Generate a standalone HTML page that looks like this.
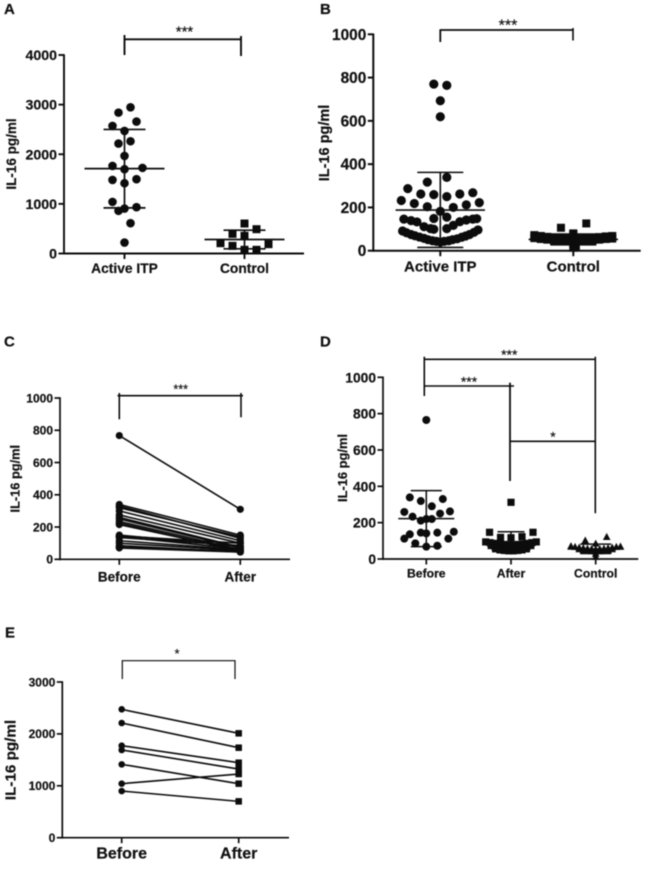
<!DOCTYPE html>
<html>
<head>
<meta charset="utf-8">
<title>IL-16 panels</title>
<style>
html,body{margin:0;padding:0;background:#fff;}
svg{display:block;filter:blur(0.4px);font-family:"Liberation Sans",sans-serif;}
text{fill:#111;stroke:#111;stroke-width:0.2px;}
</style>
</head>
<body>
<svg id="fig" width="649" height="869" viewBox="0 0 649 869" xmlns="http://www.w3.org/2000/svg">
  <text x="4" y="14" font-size="15" font-weight="bold">A</text>
  <text x="320" y="14" font-size="15" font-weight="bold">B</text>
  <text x="4" y="346.5" font-size="15" font-weight="bold">C</text>
  <text x="320" y="346.5" font-size="15" font-weight="bold">D</text>
  <text x="5" y="637.5" font-size="15" font-weight="bold">E</text>
</svg>
<script>
/* Panel A */
const aCategories = ['Active ITP', 'Control'];
const aTicks = [0, 1000, 2000, 3000, 4000];
const aActive = [2946,2839,2658,2570,2470,2262,2215,1966,1765,1725,1698,1483,1497,1416,1040,933,906,859,611,221];
const aActiveSlots = [1,-1,2,-2,0,1,-1,0,-2,3,0,-2,2,0,-2,2,0,-1,1,0];
const aActiveStats = [1710, 2500, 920];
const aControl = [604,490,396,356,208,188,154,74,74];
const aControlSlots = [0,2,-2,0,-4,4,-2,0,2];
const aControlStats = [282, 470, 94];

/* Panel B */
const bCategories = ['Active ITP', 'Control'];
const bTicks = [0, 200, 400, 600, 800, 1000];
const bActive = [770,764,693,619,339,317,287,262,259,250,262,268,232,218,203,200,212,222,182,149,155,
  146,139,133,111,102,99,102,117,134,142,146,148,
  91,83,75,69,63,57,51,46,43,40,43,46,51,55,62,68,75,85,96];
const bActiveSlots = [-1,1,0,0,1,-2,-5,-3,-1,1,3,5,-6,-4,-2,2,4,6,0,-1,1,
  -5.6,-4.5,-3.6,-2.5,-1.5,-1,1,2,3,4,5,5.6,
  -5.8,-5.2,-4.5,-3.9,-3.2,-2.5,-1.9,-1.2,-0.6,0,0.6,1.3,1.9,2.6,3.3,3.9,4.5,5.2,5.8];
const bActiveStats = [188, 362, 15];
const bControl = [106,126,80,77,30,22,14,
  72,68,64,60,58,56,55,56,58,60,63,66,68,
  58,54,51,48,46,45,44,45,46,48,51,54,56];
const bControlSlots = [-1.9,2,0,0,0,0.4,0,
  -6,-5,-4,-3,-2,-1,0,1,2,3,4,5,6,
  -6,-5,-4,-3,-2,-1,0,1,2,3,4,5,6];
const bControlStats = [52, 77, 27];

/* Panel C */
const cCategories = ['Before', 'After'];
const cTicks = [0, 200, 400, 600, 800, 1000];
const cBefore = [767,340,330,320,300,275,260,250,235,225,215,150,145,140,135,115,100,85,75,70];
const cAfter = [310,150,130,140,115,100,75,70,60,50,55,80,100,65,85,60,55,45,50,45];

/* Panel D */
const dCategories = ['Before', 'After', 'Control'];
const dTicks = [0, 200, 400, 600, 800, 1000];
const dBefore = [765,339,330,319,290,259,250,262,233,220,211,220,150,136,145,141,145,112,112,86,73,68];
const dBeforeSlots = [0,-3,3,-1,1,-4,2.5,4.3,-2.5,0,-1,1,5,-3,-1,0,2,-4,4,-2,2,0];
const dBeforeStats = [222, 376, 68];
const dAfter = [312,147,147,119,117,123,
  94,90,86,83,80,78,78,80,83,86,90,94,
  74,68,64,60,58,56,56,58,60,64,68,74,
  56,50,47,45,45,47,50,56];
const dAfterSlots = [0,-3.9,4,-1.9,0,2,
  -4.6,-3.8,-2.9,-2.1,-1.3,-0.4,0.4,1.3,2.1,2.9,3.8,4.6,
  -3.6,-2.9,-2.2,-1.6,-1,-0.3,0.3,1,1.6,2.2,2.9,3.6,
  -2.8,-2,-1.2,-0.4,0.4,1.2,2,2.8];
const dAfterStats = [92, 150, 40];
const dControl = [103,123,86,30,13,
  72,68,64,61,58,56,54,56,58,61,64,68,70,
  55,50,46,44,43,44,46,50,55];
const dControlSlots = [-1.9,2,0,0,0,
  -4.5,-3.75,-3,-2.25,-1.5,-0.75,0,0.75,1.5,2.25,3,3.75,4.5,
  -3,-2.25,-1.5,-0.75,0,0.75,1.5,2.25,3];
const dControlStats = [55, 82, 30];

/* Panel E */
const eCategories = ['Before', 'After'];
const eTicks = [0, 1000, 2000, 3000];
const eBefore = [2473,2210,1773,1690,1413,1041,899];
const eAfter = [2011,1734,1445,1323,1041,1227,700];

const svg = document.getElementById('fig');
const NS = 'http://www.w3.org/2000/svg';
const INK = '#0c0c0c';

function add(tag, attrs, name, parent) {
  const el = document.createElementNS(NS, tag);
  for (const k in attrs) el.setAttribute(k, attrs[k]);
  
  
  (parent || svg).appendChild(el);
  return el;
}
function line(x1, y1, x2, y2, w, name, parent) {
  return add('line', {x1, y1, x2, y2, stroke: INK, 'stroke-width': w}, name, parent);
}
function txt(x, y, s, size, bold, anchor, name, parent) {
  const t = add('text', {x, y, 'font-size': size, 'font-weight': bold ? 'bold' : 'normal', 'text-anchor': anchor}, name, parent);
  t.textContent = s;
  return t;
}
function dot(x, y, r, name, parent) {
  return add('circle', {cx: x, cy: y, r, fill: INK}, name, parent);
}
function square(x, y, s, name, parent) {
  return add('rect', {x: x - s / 2, y: y - s / 2, width: s, height: s, fill: INK}, name, parent);
}
function tri(x, y, s, name, parent) {
  const pts = (x - s / 2) + ',' + (y + s / 2.3) + ' ' + (x + s / 2) + ',' + (y + s / 2.3) + ' ' + x + ',' + (y - s / 2);
  return add('polygon', {points: pts, fill: INK}, name, parent);
}

function panel(o) {
  const g = add('g', {}, o.id);
  const vMax = o.ticks[o.ticks.length - 1];
  const Y = v => o.y0 - (v / vMax) * (o.y0 - o.yTop);
  const X = i => o.c0 + i * o.step;
  line(o.x0, o.yTop - 0.8, o.x0, o.y0 + 0.9, o.axisW, 'y-axis', g);
  line(o.x0 - 0.5, o.y0, o.xEnd, o.y0, o.axisW, 'x-axis', g);
  o.ticks.forEach(v => {
    line(o.x0 - 5.5, Y(v), o.x0, Y(v), o.axisW, 'y-tick', g);
    txt(o.x0 - 7, Y(v) + o.tickFs * 0.36, String(v), o.tickFs, true, 'end', 'y-tick-label', g);
  });
  o.cats.forEach((c, i) => {
    line(X(i), o.y0, X(i), o.y0 + 5.5, o.axisW, 'x-tick', g);
    txt(X(i), o.y0 + o.catDy, c, o.catFs, true, 'middle', 'x-category-label', g);
  });
  const yt = txt(0, 0, 'IL-16 pg/ml', o.titleFs, true, 'middle', 'y-axis-title', g);
  yt.setAttribute('transform', 'translate(' + o.titleX + ',' + o.titleY + ') rotate(-90)');
  return {g, X, Y};
}
function swarm(p, i, values, slots, slotPx, draw, size, name) {
  values.forEach((v, k) => draw(p.X(i) + slots[k] * slotPx, p.Y(v), size, name, p.g));
}
function stats(p, i, s, meanHalf, capHalf, w) {
  const x = p.X(i);
  line(x - meanHalf, p.Y(s[0]), x + meanHalf, p.Y(s[0]), w, 'mean-line', p.g);
  line(x - capHalf, p.Y(s[1]), x + capHalf, p.Y(s[1]), w, 'sd-upper-cap', p.g);
  line(x - capHalf, p.Y(s[2]), x + capHalf, p.Y(s[2]), w, 'sd-lower-cap', p.g);
  line(x, p.Y(s[1]), x, p.Y(s[2]), w, 'sd-whisker', p.g);
}
function stars(x, cy, s, fs, parent) {
  txt(x, cy + fs * 0.55, s, fs, false, 'middle', 'significance-stars', parent);
}
function seg(x1, y1, x2, y2, w) {
  line(x1, y1, x2, y2, w, 'significance-bracket');
}

/* ---------- A ---------- */
const pa = panel({id:'panel-a', ticks:aTicks, cats:aCategories, x0:64, y0:253.5, yTop:55, xEnd:304, c0:124.5, step:120,
  axisW:1.9, tickFs:14.2, catFs:13.8, catDy:19.5, titleFs:13.5, titleX:16, titleY:154});
swarm(pa, 0, aActive, aActiveSlots, 6, dot, 4.3, 'active-itp-point');
stats(pa, 0, aActiveStats, 40, 21, 1.7);
swarm(pa, 1, aControl, aControlSlots, 6, square, 8, 'control-point');
stats(pa, 1, aControlStats, 40, 21, 1.7);
seg(124.5, 39.3, 241, 39.3, 1.9);
seg(124.5, 35, 124.5, 55, 1.9);
seg(241, 36, 241, 56, 1.9);
stars(184.5, 28, '***', 15);

/* ---------- B ---------- */
const pb = panel({id:'panel-b', ticks:bTicks, cats:bCategories, x0:373.3, y0:250.7, yTop:34.3, xEnd:640.7, c0:440.3, step:133,
  axisW:2, tickFs:15.4, catFs:15, catDy:21, titleFs:14.5, titleX:329, titleY:143});
swarm(pb, 0, bActive, bActiveSlots, 6.5, dot, 4.6, 'active-itp-point');
stats(pb, 0, bActiveStats, 44.7, 23, 1.6);
swarm(pb, 1, bControl, bControlSlots, 6.5, square, 8, 'control-point');
stats(pb, 1, bControlStats, 44.7, 23, 1.6);
seg(440.3, 30, 573, 30, 1.8);
seg(440.3, 29.3, 440.3, 42, 1.8);
seg(573, 28, 573, 40.5, 1.6);
stars(508, 21.7, '***', 16);

/* ---------- C ---------- */
const pc = panel({id:'panel-c', ticks:cTicks, cats:cCategories, x0:60, y0:559.3, yTop:398, xEnd:290, c0:119.3, step:121,
  axisW:1.7, tickFs:12, catFs:13.5, catDy:22, titleFs:12.8, titleX:19.5, titleY:478.7});
cBefore.forEach((v, k) => {
  line(pc.X(0), pc.Y(v), pc.X(1), pc.Y(cAfter[k]), 1.6, 'paired-line', pc.g);
  dot(pc.X(0), pc.Y(v), 3.6, 'before-point', pc.g);
  dot(pc.X(1), pc.Y(cAfter[k]), 3.6, 'after-point', pc.g);
});
seg(117.5, 395.7, 243, 395.7, 1.6);
seg(119.3, 393, 119.3, 419.3, 1.6);
seg(241, 393, 241, 417.3, 1.6);
stars(180.7, 386.7, '***', 12.5);

/* ---------- D ---------- */
const pd = panel({id:'panel-d', ticks:dTicks, cats:dCategories, x0:383, y0:559, yTop:377.3, xEnd:638.3, c0:426.3, step:84.7,
  axisW:1.7, tickFs:13.8, catFs:12.2, catDy:18.3, titleFs:12.9, titleX:347, titleY:468});
swarm(pd, 0, dBefore, dBeforeSlots, 5.5, dot, 4, 'before-point');
stats(pd, 0, dBeforeStats, 28, 15.5, 1.5);
swarm(pd, 1, dAfter, dAfterSlots, 5.5, square, 7.2, 'after-point');
stats(pd, 1, dAfterStats, 28, 13.5, 1.5);
swarm(pd, 2, dControl, dControlSlots, 5.5, tri, 7.6, 'control-point');
stats(pd, 2, dControlStats, 28, 15.5, 1.5);
seg(424.3, 359.3, 595.3, 359.3, 1.6);
seg(424.3, 356.7, 424.3, 396, 1.6);
seg(595.3, 356.7, 595.3, 513.3, 1.6);
seg(424.3, 386, 514, 386, 1.6);
seg(510, 382.7, 510, 481, 1.8);
seg(510, 441.3, 595.3, 441.3, 1.6);
stars(509.3, 352, '***', 14);
stars(469, 379, '***', 14);
stars(553, 434, '*', 14);

/* ---------- E ---------- */
const pe = panel({id:'panel-e', ticks:eTicks, cats:eCategories, x0:62.3, y0:837.7, yTop:682, xEnd:289, c0:121.7, step:117,
  axisW:1.7, tickFs:12, catFs:16, catDy:21, titleFs:15.2, titleX:15.5, titleY:760});
eBefore.forEach((v, k) => {
  line(pe.X(0), pe.Y(v), pe.X(1), pe.Y(eAfter[k]), 1.6, 'paired-line', pe.g);
  dot(pe.X(0), pe.Y(v), 3.3, 'before-point', pe.g);
  square(pe.X(1), pe.Y(eAfter[k]), 6.5, 'after-point', pe.g);
});
add('path', {d: 'M122.3 679V660.7H235V679', fill: 'none', stroke: INK, 'stroke-width': 1.2}, 'significance-bracket');
stars(177, 651, '*', 13);
</script>
</body>
</html>
